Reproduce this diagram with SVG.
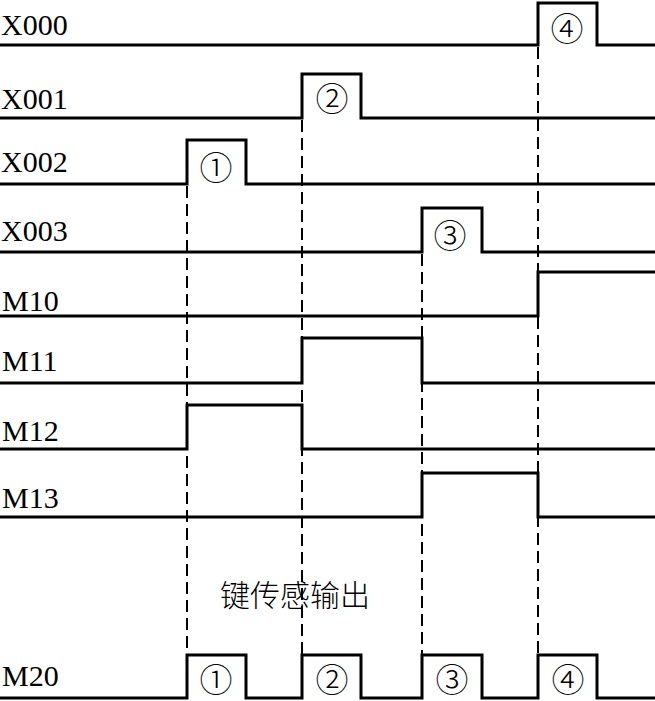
<svg xmlns="http://www.w3.org/2000/svg" width="655" height="701" viewBox="0 0 655 701">
<style>
.sig{fill:none;stroke:#000;stroke-width:3;stroke-linejoin:miter;stroke-linecap:square}
.dash{fill:none;stroke:#000;stroke-width:2;stroke-dasharray:12,6}
.lbl{font-family:"Liberation Serif","Times New Roman",serif;font-size:30px;fill:#000}
.num{font-family:"Noto Sans CJK SC","Liberation Serif",sans-serif;font-size:33px;font-weight:300;fill:#000;text-anchor:middle;dominant-baseline:central}
.cn{font-family:"Noto Sans CJK SC",sans-serif;font-size:30px;font-weight:300;fill:#000}
</style>
<rect width="655" height="701" fill="#fff"/>
<g id="connectors">
<line class="dash" x1="187" y1="186" x2="187" y2="655"/>
<line class="dash" x1="302" y1="120" x2="302" y2="655"/>
<line class="dash" x1="422" y1="254" x2="422" y2="655"/>
<line class="dash" x1="538" y1="47" x2="538" y2="655"/>
</g>
<g id="X000"><text class="lbl" x="1" y="35">X000</text><path class="sig" d="M0,45 H538 V3 H597 V45 H655"/><text class="num" x="567" y="27">④</text></g>
<g id="X001"><text class="lbl" x="1" y="109">X001</text><path class="sig" d="M0,118 H302 V74 H361 V118 H655"/><text class="num" x="332" y="97">②</text></g>
<g id="X002"><text class="lbl" x="1" y="172">X002</text><path class="sig" d="M0,184 H187 V140 H246 V184 H655"/><text class="num" x="216" y="166">①</text></g>
<g id="X003"><text class="lbl" x="1" y="241">X003</text><path class="sig" d="M0,252 H422 V208 H482 V252 H655"/><text class="num" x="450" y="234">③</text></g>
<g id="M10"><text class="lbl" x="2" y="311">M10</text><path class="sig" d="M0,316 H538 V272 H655"/></g>
<g id="M11"><text class="lbl" x="2" y="371">M11</text><path class="sig" d="M0,383 H302 V338 H422 V383 H655"/></g>
<g id="M12"><text class="lbl" x="2" y="441">M12</text><path class="sig" d="M0,449 H187 V405 H302 V449 H655"/></g>
<g id="M13"><text class="lbl" x="2" y="508">M13</text><path class="sig" d="M0,517 H422 V473 H538 V517 H655"/></g>
<g id="caption"><text class="cn" x="220" y="606">键传感输出</text></g>
<g id="M20"><text class="lbl" x="2" y="686">M20</text><path class="sig" d="M0,698 H187 V655 H246 V698 H302 V655 H361 V698 H422 V655 H482 V698 H538 V655 H597 V698 H655"/>
<text class="num" x="216" y="678">①</text><text class="num" x="332" y="678">②</text><text class="num" x="452" y="678">③</text><text class="num" x="568" y="678">④</text></g>
</svg>
